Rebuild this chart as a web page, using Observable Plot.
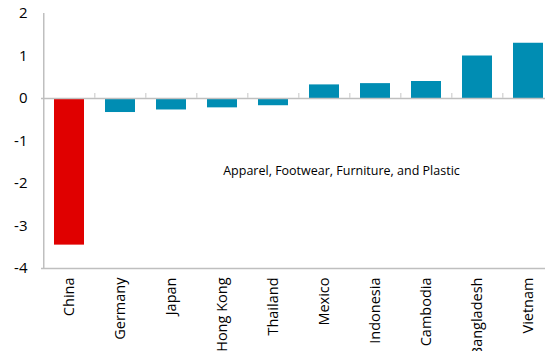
<!DOCTYPE html>
<html>
<head>
<meta charset="utf-8">
<script src="https://cdn.jsdelivr.net/npm/d3@7"></script>
<script src="https://cdn.jsdelivr.net/npm/@observablehq/plot@0.6"></script>
<style>
  html, body { margin: 0; padding: 0; background: #fff; overflow: hidden; }
  svg { display: block; }
</style>
</head>
<body>
<div id="chart"></div>
<script>
const countries = ["China", "Germany", "Japan", "Hong Kong", "Thailand", "Mexico", "Indonesia", "Cambodia", "Bangladesh", "Vietnam"];
const values = [-3.45, -0.33, -0.27, -0.22, -0.17, 0.32, 0.35, 0.40, 1.00, 1.30];
const yTicks = [-4, -3, -2, -1, 0, 1, 2];
const annotation = "Apparel, Footwear, Furniture, and Plastic";

const data = countries.map((c, i) => ({country: c, value: values[i]}));
const font = "'Open Sans', 'Noto Sans', sans-serif";

const chart = Plot.plot({
  width: 545,
  height: 351,
  marginTop: 13,
  marginBottom: 83,
  marginLeft: 41,
  marginRight: -11,
  style: {fontFamily: font, fontSize: "14px", color: "#000", background: "#fff"},
  x: {domain: countries, paddingInner: 0.42, paddingOuter: 0.21, label: null},
  y: {domain: [-4, 2], ticks: yTicks, label: null},
  marks: [
    Plot.barY(data, {
      x: "country",
      y: "value",
      fill: d => d.value < 0 && d.country === "China" ? "#E00000" : "#008DB3"
    }),
    Plot.ruleY([0], {stroke: "#bfbfbf", strokeWidth: 1.5}),
    Plot.ruleX(countries.slice(1), {x: d => d, y1: 0, y2: 0.12, dx: -25.75, stroke: "#d9d9d9", strokeWidth: 1.5}),
    Plot.ruleY([-4], {stroke: "#bfbfbf", strokeWidth: 1.5}),
    Plot.ruleX([countries[0]], {x: d => d, y1: -4, y2: 2, dx: -25.75, stroke: "#bfbfbf", strokeWidth: 1.5}),
    Plot.axisY({ticks: yTicks, tickSize: 0, tickPadding: 14, fontSize: 15, tickFormat: d => String(d)}),
    Plot.axisX({tickSize: 0, tickRotate: -90, tickPadding: 9, fontSize: 14.5}),
    Plot.text([annotation], {
      x: () => countries[5],
      y: () => -1.7,
      dx: 17,
      text: d => d,
      fontSize: 12.5,
      fill: "#000"
    })
  ]
});
document.getElementById("chart").appendChild(chart);
</script>
</body>
</html>
